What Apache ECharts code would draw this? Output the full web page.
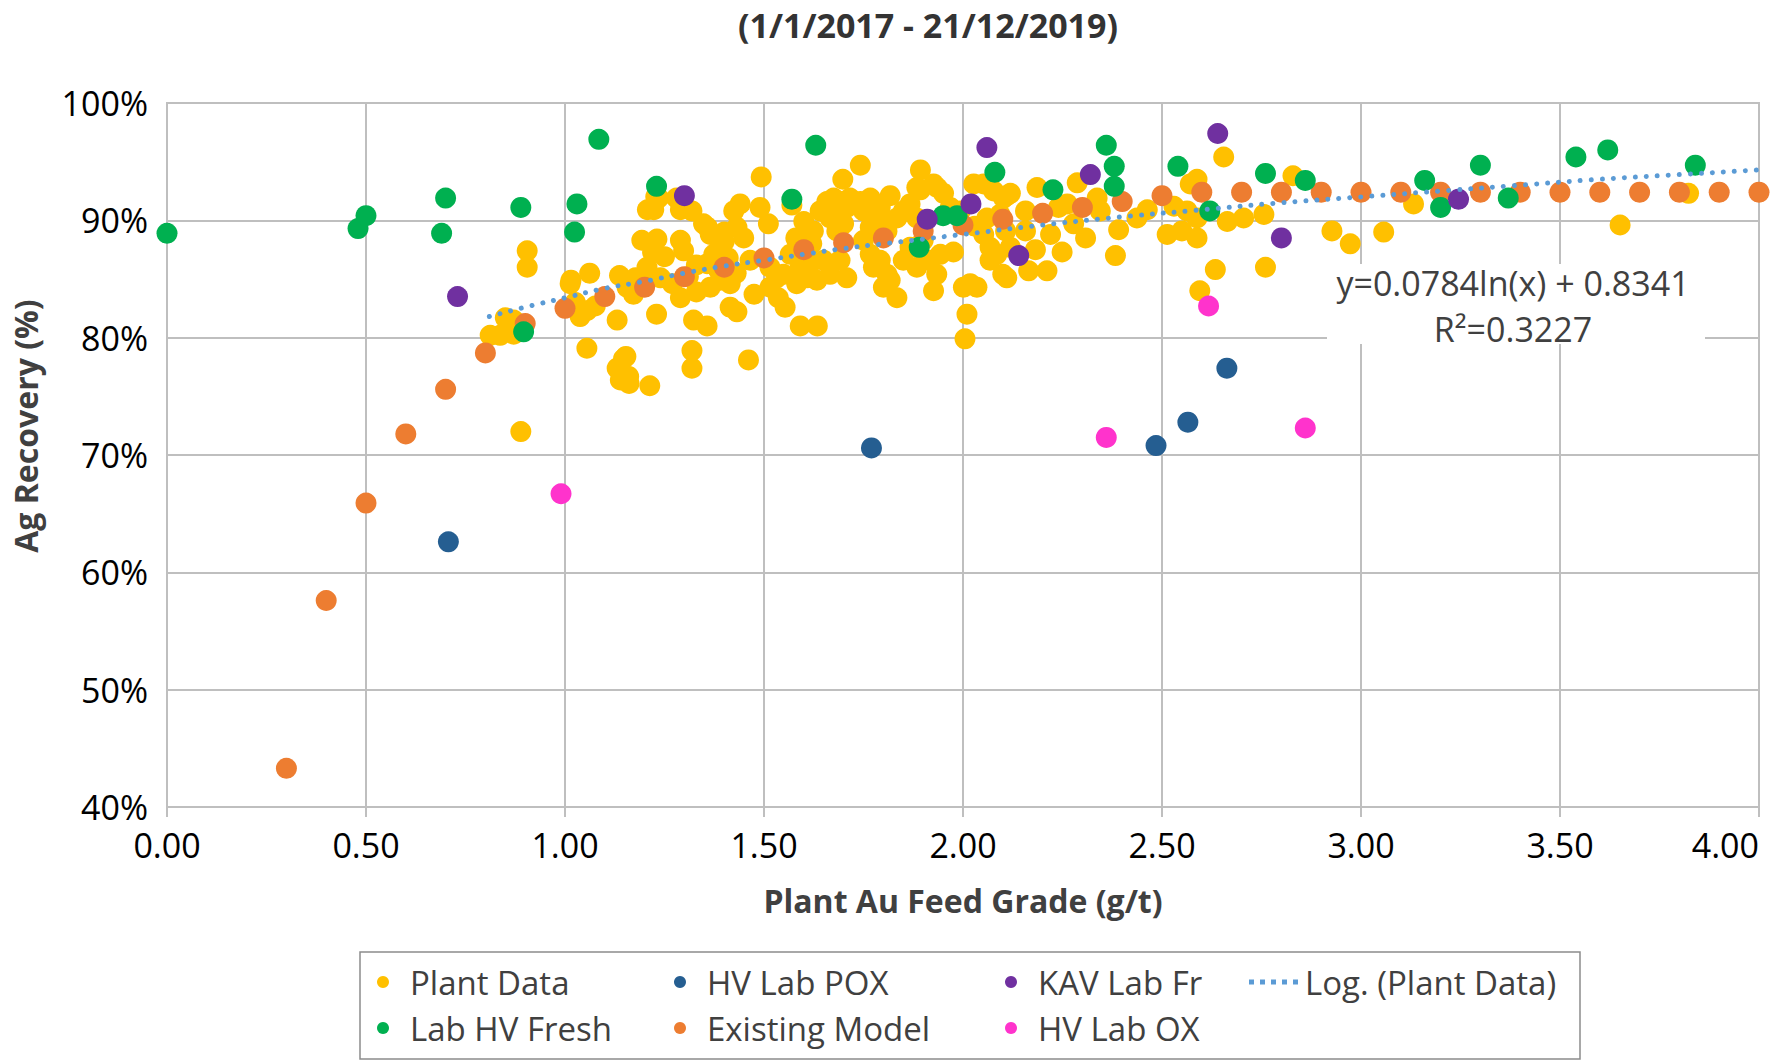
<!DOCTYPE html>
<html>
<head>
<meta charset="utf-8">
<script src="https://cdn.jsdelivr.net/npm/echarts@6/dist/echarts.min.js"></script>
<style>
  html, body { margin: 0; padding: 0; background: #fff; }
  #chart { width: 1775px; height: 1061px; }
</style>
</head>
<body>
<div id="chart"></div>
<script>
// ---------------- DATA ----------------
const titleText = '(1/1/2017 - 21/12/2019)';
const xAxisName = 'Plant Au Feed Grade (g/t)';
const yAxisName = 'Ag Recovery (%)';
const equationLines = ['y=0.0784ln(x) + 0.8341', 'R\u00B2=0.3227'];

// Plant Data [grade g/t, Ag recovery %]
const plantData = [
[0.812,80.2],[0.837,80.2],[0.85,81.7],[0.871,80.3],[0.871,81.5],[0.889,72.0],[0.905,87.4],[0.905,86.0],
[1.013,84.6],[1.015,84.9],[1.062,85.5],[1.026,83.0],[1.055,82.3],[1.076,82.7],[1.038,81.8],[1.055,79.1],
[1.131,81.5],[1.131,77.4],[1.147,78.2],[1.153,78.4],[1.16,76.7],[1.139,76.4],[1.161,76.1],[1.213,75.9],
[1.137,85.3],[1.156,84.3],[1.177,85.1],[1.206,86.0],[1.193,88.3],[1.231,88.4],[1.19,85.0],[1.172,83.7],
[1.24,85.1],[1.23,82.0],[1.223,90.9],[1.235,91.9],[1.228,92.0],[1.207,90.9],[1.29,88.3],[1.298,87.4],
[1.29,83.4],[1.28,91.9],[1.319,90.8],[1.29,90.9],[1.323,81.5],[1.357,81.0],[1.319,78.9],[1.319,77.4],
[1.348,89.7],[1.365,88.8],[1.374,87.1],[1.357,86.3],[1.39,84.9],[1.365,84.3],[1.415,82.6],[1.424,90.8],
[1.432,89.4],[1.40,89.0],[1.41,86.8],[1.385,85.8],[1.43,85.5],[1.40,88.2],[1.33,86.2],
[1.31,85.2],[1.27,84.6],[1.33,83.9],[1.25,86.9],[1.22,87.3],[1.358,89.4],[1.383,88.6],
[1.493,93.7],[1.461,78.1],[1.432,82.2],[1.475,83.7],[1.536,83.4],[1.553,82.6],[1.591,81.0],[1.634,81.0],
[1.44,91.4],[1.449,88.5],[1.49,91.1],[1.511,89.7],[1.465,86.6],[1.415,84.6],[1.515,86.0],[1.549,85.4],
[1.582,84.6],[1.608,85.1],[1.616,86.3],[1.624,89.1],[1.641,90.8],[1.658,91.6],[1.675,91.9],[1.691,91.6],
[1.698,93.5],[1.742,94.7],[1.716,91.9],[1.742,91.6],[1.767,91.9],[1.792,91.1],[1.817,92.1],[1.666,90.2],
[1.683,89.1],[1.70,89.7],[1.65,86.6],[1.666,85.4],[1.708,85.1],[1.691,86.6],[1.75,88.3],[1.767,87.1],
[1.792,86.6],[1.809,85.4],[1.775,86.0],[1.80,84.3],[1.834,83.4],[1.817,84.9],[1.85,90.8],[1.867,91.4],
[1.884,90.2],[1.893,94.3],[1.893,92.6],[1.884,92.8],[1.926,93.1],[1.935,92.8],[1.951,92.3],[1.85,86.6],
[1.884,86.0],[1.917,86.6],[1.934,85.4],[1.926,84.0],[1.867,87.7],[1.90,88.3],[1.943,87.1],[1.976,87.3],
[1.968,91.1],[1.993,90.8],[2.001,84.3],[2.035,84.3],[2.018,84.6],[2.01,82.0],[2.005,79.9],[2.027,93.1],
[2.052,93.1],[2.077,92.5],[2.102,91.9],[2.052,88.8],[2.068,87.7],[2.085,87.1],[2.068,86.6],[2.093,90.5],
[2.11,85.1],[1.666,91.1],[1.708,91.1],[1.75,90.8],[1.792,90.5],[1.834,90.2],[1.767,89.4],[1.809,89.1],
[1.566,87.1],[1.591,86.0],[1.633,84.9],[1.515,84.3],[1.532,85.1],[1.57,91.3],[1.60,89.9],[1.62,88.0],
[1.58,88.5],[2.06,90.2],[2.03,89.5],
[2.119,92.3],[2.186,92.8],[2.655,95.4],[2.588,93.5],[2.571,93.1],[2.563,90.8],[2.588,90.2],[2.55,89.1],
[2.513,88.8],[2.588,88.5],[2.634,85.8],[2.595,84.0],[2.664,89.9],[2.705,90.2],[2.756,90.5],[2.76,86.0],
[2.437,90.2],[2.463,90.9],[2.391,89.2],[2.383,87.0],[2.308,88.5],[2.287,93.2],[2.337,91.9],[2.345,90.8],
[2.249,87.3],[2.211,85.7],[2.165,85.7],[2.10,85.4],[2.11,92.1],[2.119,87.7],[2.107,89.1],[2.157,90.8],
[2.157,89.1],[2.182,87.5],[2.22,88.8],[2.24,91.1],[2.262,91.4],[2.278,89.7],[2.53,91.2],
[2.829,93.8],[3.132,91.4],[2.927,89.1],[2.973,88.0],[3.057,89.0],[3.651,89.6],[3.823,92.3]
];

const labHvFresh = [
[0.00,88.9],[0.48,89.3],[0.50,90.4],[0.69,88.9],[0.70,91.9],[0.889,91.1],[0.896,80.5],[1.024,89.0],
[1.03,91.4],[1.085,96.9],[1.23,92.9],[1.57,91.8],[1.63,96.4],[1.89,87.7],[1.95,90.4],[1.985,90.4],
[2.08,94.1],[2.226,92.6],[2.36,96.4],[2.38,94.6],[2.38,92.9],[2.54,94.6],[2.62,90.8],[2.76,94.0],
[2.86,93.4],[3.16,93.4],[3.20,91.1],[3.30,94.7],[3.37,91.9],[3.54,95.4],[3.62,96.0],[3.84,94.7]
];

const hvLabPox = [[0.707,62.6],[1.77,70.6],[2.485,70.8],[2.565,72.8],[2.663,77.4]];

const modelX = [0.3,0.4,0.5,0.6,0.7,0.8,0.9,1.0,1.1,1.2,1.3,1.4,1.5,1.6,1.7,1.8,1.9,2.0,2.1,2.2,2.3,2.4,2.5,
                2.6,2.7,2.8,2.9,3.0,3.1,3.2,3.3,3.4,3.5,3.6,3.7,3.8,3.9,4.0];
const modelY = [43.3,57.6,65.9,71.8,75.6,78.7,81.2,82.5,83.5,84.3,85.2,86.0,86.8,87.5,88.1,88.5,89.1,89.6,90.1,90.6,91.1,91.6,92.1,
                92.4,92.4,92.4,92.4,92.4,92.4,92.4,92.4,92.4,92.4,92.4,92.4,92.4,92.4,92.4];

const kavLabFr = [[0.73,83.5],[1.30,92.1],[1.91,90.1],[2.02,91.4],[2.06,96.2],[2.14,87.0],[2.32,93.9],[2.64,97.4],[2.80,88.5],[3.245,91.8]];

const hvLabOx = [[0.99,66.7],[2.36,71.5],[2.617,82.7],[2.86,72.3]];

// Logarithmic trend of Plant Data
const trendX = [0.81,0.9,1.0,1.1,1.2,1.3,1.4,1.5,1.6,1.7,1.8,1.9,2.0,2.2,2.4,2.6,2.8,3.0,3.2,3.4,3.6,3.8,4.0];
const trendY = [81.8,82.6,83.4,84.2,84.8,85.5,86.1,86.6,87.1,87.6,88.0,88.4,88.8,89.6,90.3,90.9,91.5,92.0,92.5,93.0,93.5,93.9,94.3];

const xTicks = { min: 0, max: 4, interval: 0.5 };
const yTicks = { min: 40, max: 100, interval: 10 };

// ---------------- CHART ----------------
const FONT = "'Open Sans', sans-serif";
const GRID_COLOR = '#BFBFBF';
const TEXT_DARK = '#404040';
const TREND_COLOR = '#5B9BD5';
const chart = echarts.init(document.getElementById('chart'), null, { renderer: 'svg' });

const zip = (xs, ys) => xs.map((x, i) => [x, ys[i]]);
const dotSize = 21;

const scatter = (name, data, color, z) => ({
  name, type: 'scatter', data, symbol: 'circle', symbolSize: dotSize, z,
  itemStyle: { color, opacity: 1 }, emphasis: { disabled: true }
});

const legendCommon = {
  orient: 'vertical', top: 959, itemGap: 10, icon: 'circle',
  itemWidth: 44, itemHeight: 12,
  textStyle: { fontFamily: FONT, fontSize: 33, color: TEXT_DARK, lineHeight: 36 },
  selectedMode: false
};

const option = {
  backgroundColor: '#fff',
  animation: false,
  grid: { left: 167, right: 16, top: 103, bottom: 254, show: true, borderColor: GRID_COLOR, borderWidth: 2,
          outerBoundsMode: 'none', containLabel: false },
  xAxis: {
    type: 'value', min: xTicks.min, max: xTicks.max, interval: xTicks.interval,
    name: xAxisName, nameLocation: 'middle', nameGap: 77,
    nameTextStyle: { fontFamily: FONT, fontSize: 32, fontWeight: 'bold', color: TEXT_DARK },
    axisLine: { show: true, lineStyle: { color: GRID_COLOR, width: 2 } },
    axisTick: { show: true, length: 10, lineStyle: { color: GRID_COLOR, width: 2 } },
    splitLine: { show: true, lineStyle: { color: GRID_COLOR, width: 2 } },
    axisLabel: { fontFamily: FONT, fontSize: 34, color: '#000', margin: 21, alignMaxLabel: 'right',
                 formatter: v => v.toFixed(2) }
  },
  yAxis: {
    type: 'value', min: yTicks.min, max: yTicks.max, interval: yTicks.interval,
    name: yAxisName, nameLocation: 'middle', nameGap: 126,
    nameTextStyle: { fontFamily: FONT, fontSize: 32, fontWeight: 'bold', color: TEXT_DARK, padding: [0, 0, 0, 58] },
    axisLine: { show: true, lineStyle: { color: GRID_COLOR, width: 2 } },
    axisTick: { show: false },
    splitLine: { show: true, lineStyle: { color: GRID_COLOR, width: 2 } },
    axisLabel: { fontFamily: FONT, fontSize: 34, color: '#000', margin: 19, formatter: '{value}%' }
  },
  legend: [
    Object.assign({}, legendCommon, { left: 372, data: ['Plant Data', 'Lab HV Fresh'] }),
    Object.assign({}, legendCommon, { left: 669, data: ['HV Lab POX', 'Existing Model'] }),
    Object.assign({}, legendCommon, { left: 1000, data: ['KAV Lab Fr', 'HV Lab OX'] }),
    Object.assign({}, legendCommon, {
      left: 1244, itemWidth: 53, itemHeight: 5,
      icon: 'path://M0,0h5v5h-5z M11,0h5v5h-5z M22,0h5v5h-5z M33,0h5v5h-5z M44,0h5v5h-5z',
      itemStyle: { color: TREND_COLOR, borderWidth: 0 },
      data: ['Log. (Plant Data)']
    })
  ],
  series: [
    scatter('Plant Data', plantData, '#FFC000', 2),
    scatter('Existing Model', zip(modelX, modelY), '#ED7D31', 3),
    scatter('Lab HV Fresh', labHvFresh, '#00B050', 4),
    scatter('HV Lab POX', hvLabPox, '#255E91', 4),
    scatter('KAV Lab Fr', kavLabFr, '#7030A0', 4),
    scatter('HV Lab OX', hvLabOx, '#FF33CC', 4),
    {
      name: 'Log. (Plant Data)', type: 'line', data: zip(trendX, trendY), smooth: true,
      symbol: 'none', z: 6, emphasis: { disabled: true },
      itemStyle: { color: TREND_COLOR },
      lineStyle: { color: TREND_COLOR, width: 5, type: [0.01, 11], cap: 'round' }
    }
  ],
  graphic: [
    { type: 'text', x: 928, y: 25, z: 10,
      style: { text: titleText, fontFamily: FONT, fontSize: 34, fontWeight: 'bold', fill: '#333', align: 'center', verticalAlign: 'middle' } },
    { type: 'rect', shape: { x: 1327, y: 264, width: 378, height: 80 }, z: 10,
      style: { fill: '#fff', stroke: 'none' } },
    { type: 'text', x: 1513, y: 283, z: 11,
      style: { text: equationLines[0], fontFamily: FONT, fontSize: 34, fill: TEXT_DARK, align: 'center', verticalAlign: 'middle' } },
    { type: 'text', x: 1513, y: 329, z: 11,
      style: { text: equationLines[1], fontFamily: FONT, fontSize: 34, fill: TEXT_DARK, align: 'center', verticalAlign: 'middle' } },
    { type: 'rect', shape: { x: 360, y: 952, width: 1220, height: 107 }, z: 1,
      style: { fill: 'none', stroke: '#8C8C8C', lineWidth: 1.5 } }
  ]
};
chart.setOption(option);
</script>
</body>
</html>
